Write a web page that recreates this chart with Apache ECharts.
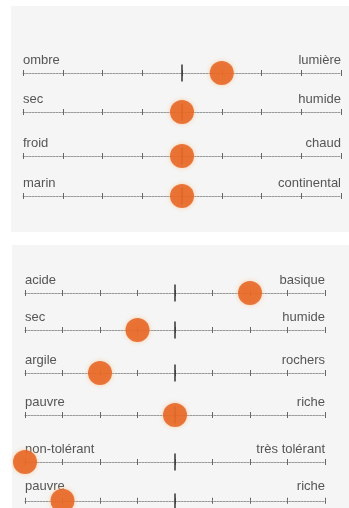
<!DOCTYPE html>
<html>
<head>
<meta charset="utf-8">
<script src="https://cdn.jsdelivr.net/npm/echarts@6/dist/echarts.min.js"></script>
<style>
  html, body { margin: 0; padding: 0; background: #ffffff; }
  #main { width: 349px; height: 508px; }
</style>
</head>
<body>
<div id="main"></div>
<script>
// échelle 1 à 9
const scaleMin = 1
const scaleMax = 9
const scaleMid = 5

// climat
const climatLeft = ['ombre', 'sec', 'froid', 'marin']
const climatRight = ['lumière', 'humide', 'chaud', 'continental']
const climatValues = [6, 5, 5, 5]

// sol
const solLeft = ['acide', 'sec', 'argile', 'pauvre', 'non-tolérant', 'pauvre']
const solRight = ['basique', 'humide', 'rochers', 'riche', 'très tolérant', 'riche']
const solValues = [7, 4, 3, 5, 1, 2]

// mise en page (px)
const climatLineY = [73, 112, 156, 196]
const solLineY = [293, 330, 373, 415, 462, 502]
const tickH = 17

const chart = echarts.init(document.getElementById('main'), null, { renderer: 'canvas' })

const grid = []
const xAxis = []
const yAxis = []
const series = []

function addScale(left, right, value, lineY, gl, gr) {
    const i = grid.length
    grid.push({ left: gl, right: gr, top: lineY - tickH / 2, height: tickH })
    yAxis.push({ gridIndex: i, type: 'value', min: -1, max: 1, show: false })
    // axe principal : ligne pointillée, graduations vers le haut, libellés
    xAxis.push({
        gridIndex: i,
        type: 'value',
        position: 'bottom',
        min: scaleMin,
        max: scaleMax,
        interval: 1,
        axisLine: { onZero: true, onZeroAxisIndex: i, lineStyle: { color: '#999', width: 1, type: [2, 1] } },
        axisTick: { inside: true, length: 3, lineStyle: { color: '#666' } },
        splitLine: { show: false },
        axisLabel: {
            inside: true,
            margin: 15,
            color: '#555',
            fontSize: 13,
            fontFamily: 'Liberation Sans, Arial, sans-serif',
            alignMinLabel: 'left',
            alignMaxLabel: 'right',
            formatter: v => (v === scaleMin ? left : v === scaleMax ? right : '')
        }
    })
    // deuxième axe : graduations vers le bas
    xAxis.push({
        gridIndex: i,
        type: 'value',
        position: 'bottom',
        min: scaleMin,
        max: scaleMax,
        interval: 1,
        axisLine: { show: false, onZero: true, onZeroAxisIndex: i },
        axisTick: { inside: false, length: 3, lineStyle: { color: '#666' } },
        splitLine: { show: false },
        axisLabel: { show: false }
    })
    // repère central, sous la pastille
    series.push({
        type: 'line',
        xAxisIndex: 2 * i,
        yAxisIndex: i,
        data: [],
        z: 1,
        markLine: {
            silent: true,
            symbol: 'none',
            label: { show: false },
            lineStyle: { color: '#333', type: 'solid', width: 1.5 },
            data: [{ xAxis: scaleMid }]
        }
    })
    series.push({
        type: 'scatter',
        xAxisIndex: 2 * i,
        yAxisIndex: i,
        data: [[value, 0]],
        symbolSize: 24,
        clip: false,
        z: 10,
        itemStyle: {
            color: '#e35a17',
            shadowBlur: 4,
            shadowColor: 'rgba(255, 190, 130, 0.9)'
        }
    })
}

climatLeft.forEach((l, k) => addScale(l, climatRight[k], climatValues[k], climatLineY[k], 23, 8))
solLeft.forEach((l, k) => addScale(l, solRight[k], solValues[k], solLineY[k], 25, 24))

chart.setOption({
    backgroundColor: '#ffffff',
    animation: false,
    graphic: [
        { type: 'rect', z: -10, shape: { x: 11, y: 6, width: 338, height: 226 }, style: { fill: '#f5f5f5' } },
        { type: 'rect', z: -10, shape: { x: 12, y: 245, width: 337, height: 263 }, style: { fill: '#f5f5f5' } }
    ],
    grid,
    xAxis,
    yAxis,
    series
})
</script>
</body>
</html>
